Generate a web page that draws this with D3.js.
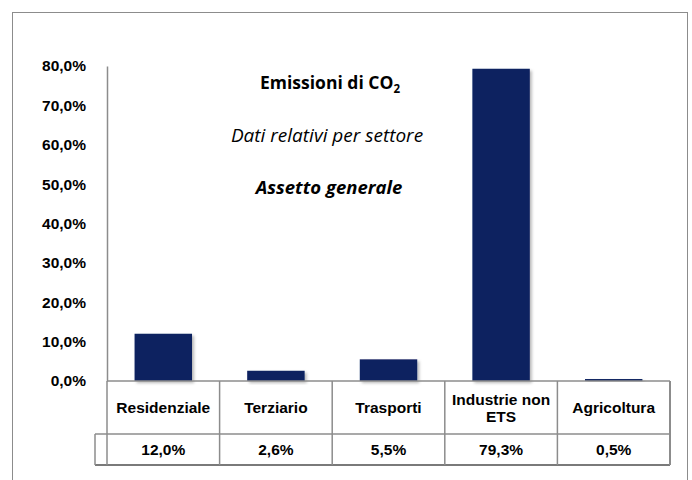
<!DOCTYPE html>
<html>
<head>
<meta charset="utf-8">
<script src="https://cdn.jsdelivr.net/npm/d3@7"></script>
<style>
  html, body { margin: 0; padding: 0; background: #ffffff; }
  svg { display: block; }
</style>
</head>
<body>
<script>
// Emissioni di CO2 per settore (quote percentuali)
const categories = ["Residenziale", "Terziario", "Trasporti", "Industrie non ETS", "Agricoltura"];
const values = [12.0, 2.6, 5.5, 79.3, 0.5];
const yTicks = [0, 10, 20, 30, 40, 50, 60, 70, 80];
const titleText = "Emissioni di CO";
const subtitleText = "Dati relativi per settore";
const scenarioText = "Assetto generale";

const W = 692, H = 480;
const plot = { left: 107, right: 670, top: 66, bottom: 381 };
const catRowH = 53, valRowH = 31;
const gridColor = "#8c8c8c";
const barColor = "#0b2160";
const sansBold = "'Liberation Sans', Arial, sans-serif";
const titleFont = "'Open Sans', Lato, sans-serif";

const fmtPct = v => d3.format(".1f")(v).replace(".", ",") + "%";

const svg = d3.select("body").append("svg")
  .attr("width", W).attr("height", H);

const defs = svg.append("defs");
const shadow = defs.append("filter").attr("id", "barShadow")
  .attr("x", "-20%").attr("y", "-20%").attr("width", "150%").attr("height", "150%");
shadow.append("feDropShadow")
  .attr("dx", 2).attr("dy", 2).attr("stdDeviation", 1.4)
  .attr("flood-color", "#000").attr("flood-opacity", 0.28);

// outer chart frame
svg.append("rect")
  .attr("x", 12.5).attr("y", 12.5)
  .attr("width", 675).attr("height", H + 20)
  .attr("fill", "#fff").attr("stroke", gridColor).attr("stroke-width", 1);

const x = d3.scaleBand().domain(categories).range([plot.left, plot.right]).padding(0);
const y = d3.scaleLinear().domain([0, 80]).range([plot.bottom, plot.top]);
const barW = x.bandwidth() * 0.51;

// bars
svg.append("g").selectAll("rect")
  .data(values)
  .join("rect")
  .attr("x", (d, i) => x(categories[i]) + (x.bandwidth() - barW) / 2)
  .attr("y", d => y(d))
  .attr("width", barW)
  .attr("height", d => y(0) - y(d))
  .attr("fill", barColor)
  .attr("filter", "url(#barShadow)");

// y axis
const yAxis = svg.append("g")
  .attr("transform", `translate(${plot.left},0)`)
  .call(d3.axisLeft(y).tickValues(yTicks).tickFormat(fmtPct).tickSize(0).tickSizeOuter(0).tickPadding(21));
yAxis.select(".domain").attr("stroke", gridColor).attr("stroke-width", 1.5);
yAxis.selectAll("text")
  .attr("font-family", sansBold).attr("font-weight", "bold")
  .attr("font-size", "15.5px").attr("fill", "#000");

// data table under the plot
const table = svg.append("g");
const row1 = plot.bottom, row2 = plot.bottom + catRowH, row3 = row2 + valRowH;
const lineStyle = sel => sel.attr("stroke", gridColor).attr("stroke-width", 1.5).attr("fill", "none");

table.append("line").attr("x1", plot.left).attr("x2", plot.right).attr("y1", row1).attr("y2", row1).call(lineStyle);
table.append("line").attr("x1", plot.left - 12).attr("x2", plot.right).attr("y1", row2).attr("y2", row2).call(lineStyle);
table.append("line").attr("x1", plot.left - 12).attr("x2", plot.right).attr("y1", row3).attr("y2", row3)
  .call(lineStyle).attr("stroke-width", 2).attr("stroke", "#7a7a7a");
table.append("line").attr("x1", plot.left - 12).attr("x2", plot.left - 12).attr("y1", row2).attr("y2", row3).call(lineStyle);

const boundaries = categories.map(c => x(c)).concat([plot.right]);
table.selectAll("line.col")
  .data(boundaries)
  .join("line").attr("class", "col")
  .attr("x1", d => d).attr("x2", d => d)
  .attr("y1", row1).attr("y2", row3)
  .call(lineStyle)
  .attr("stroke-width", (d, i) => i === boundaries.length - 1 ? 2 : 1.5);

// wrap a category name into lines that fit the column
function wrapLines(text, maxW, fontSize) {
  const ctx = document.createElement("canvas").getContext("2d");
  ctx.font = `bold ${fontSize}px 'Liberation Sans', Arial, sans-serif`;
  const words = text.split(" ");
  const lines = [];
  let cur = "";
  words.forEach(w => {
    const test = cur ? cur + " " + w : w;
    if (ctx.measureText(test).width > maxW && cur) { lines.push(cur); cur = w; }
    else cur = test;
  });
  lines.push(cur);
  return lines;
}

const catFs = 15.5, lineH = 17;
const catLabels = table.selectAll("text.cat")
  .data(categories)
  .join("text").attr("class", "cat")
  .attr("text-anchor", "middle")
  .attr("font-family", sansBold).attr("font-weight", "bold")
  .attr("font-size", catFs + "px").attr("fill", "#000");
catLabels.each(function (d) {
  const lines = wrapLines(d, x.bandwidth() - 8, catFs);
  const cx = x(d) + x.bandwidth() / 2;
  const cy = row1 + catRowH / 2;
  const t = d3.select(this);
  lines.forEach((ln, k) => {
    t.append("tspan")
      .attr("x", cx)
      .attr("y", cy + (k - (lines.length - 1) / 2) * lineH)
      .attr("dy", "0.36em")
      .text(ln);
  });
});

table.selectAll("text.val")
  .data(values)
  .join("text").attr("class", "val")
  .attr("x", (d, i) => x(categories[i]) + x.bandwidth() / 2)
  .attr("y", row2 + valRowH / 2)
  .attr("dy", "0.36em")
  .attr("text-anchor", "middle")
  .attr("font-family", sansBold).attr("font-weight", "bold")
  .attr("font-size", catFs + "px").attr("fill", "#000")
  .text(d => fmtPct(d));

// titles inside the plot area
const tx = 330;
const title = svg.append("text")
  .attr("x", tx).attr("y", 89)
  .attr("text-anchor", "middle")
  .attr("font-family", titleFont).attr("font-weight", "bold")
  .attr("font-size", "17.5px").attr("fill", "#000");
title.append("tspan").text(titleText);
title.append("tspan").attr("font-size", "11.5px").attr("dy", 4).text("2");

svg.append("text")
  .attr("x", tx - 3).attr("y", 142)
  .attr("text-anchor", "middle")
  .attr("font-family", titleFont).attr("font-style", "italic")
  .attr("font-size", "19px").attr("fill", "#000")
  .text(subtitleText);

svg.append("text")
  .attr("x", tx - 1).attr("y", 194)
  .attr("text-anchor", "middle")
  .attr("font-family", titleFont).attr("font-weight", "bold").attr("font-style", "italic")
  .attr("font-size", "18.5px").attr("fill", "#000")
  .text(scenarioText);
</script>
</body>
</html>
